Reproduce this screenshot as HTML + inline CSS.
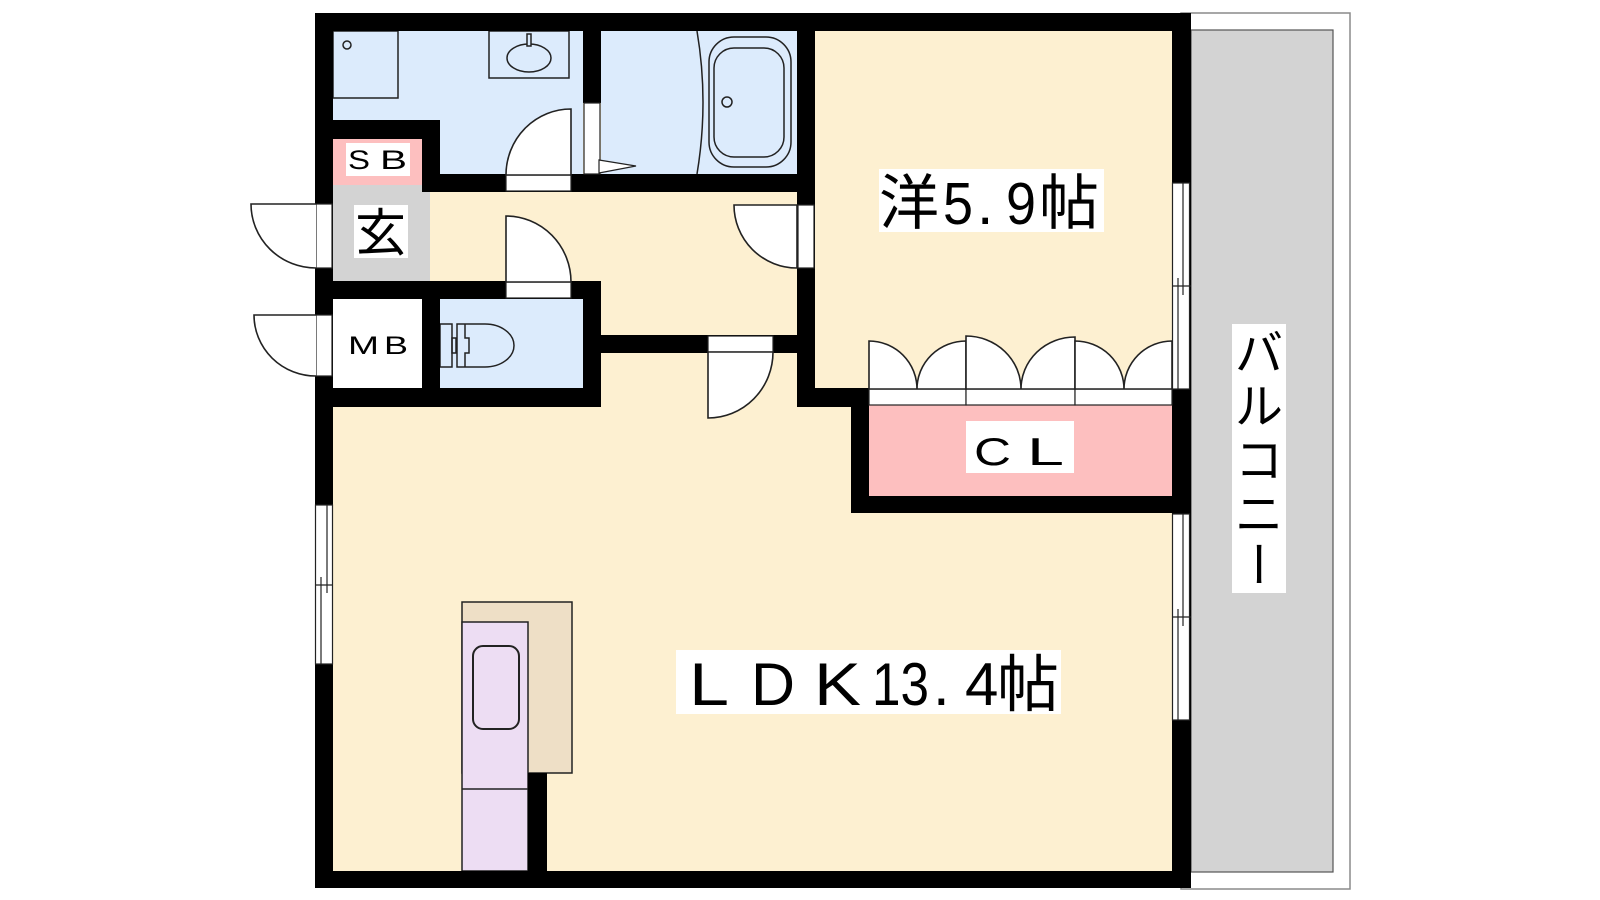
<!DOCTYPE html>
<html><head><meta charset="utf-8"><style>
html,body{margin:0;padding:0;background:#fff;}
svg{display:block;}
text{font-family:"Liberation Sans","Noto Sans CJK JP",sans-serif;fill:#000;}
.j{font-family:"Noto Sans CJK JP","Liberation Sans",sans-serif;}
</style></head><body>
<svg width="1600" height="900" viewBox="0 0 1600 900" xmlns="http://www.w3.org/2000/svg">
<rect x="0" y="0" width="1600" height="900" fill="#fff"/>
<!-- balcony -->
<rect x="1181" y="13" width="169" height="876" fill="#fff" stroke="#8a8a8a" stroke-width="1.5"/>
<rect x="1191" y="30" width="142" height="842" fill="#d3d3d3" stroke="#555" stroke-width="1.2"/>

<!-- interior fills -->
<rect x="333" y="31" width="839" height="840" fill="#fdf0d1"/>
<rect x="333" y="31" width="250" height="143" fill="#dcebfc"/>
<rect x="601" y="31" width="196" height="143" fill="#dcebfc"/>
<rect x="333" y="139" width="89" height="46" fill="#fdbfbf"/>
<rect x="333" y="185" width="97" height="96" fill="#d3d3d3"/>
<rect x="333" y="299" width="89" height="89" fill="#fff"/>
<rect x="440" y="299" width="143" height="89" fill="#dcebfc"/>
<rect x="869" y="405" width="303" height="91" fill="#fdbfbf"/>

<!-- fixtures: washroom -->
<g fill="none" stroke="#222" stroke-width="1.5">
<rect x="333" y="31" width="65" height="67"/>
<circle cx="347" cy="45" r="4"/>
<rect x="489" y="31" width="80" height="47"/>
<ellipse cx="529" cy="58" rx="22" ry="14"/>
<rect x="527" y="34" width="4" height="12" fill="#dcebfc"/>
<!-- bath -->
<path d="M697,31 Q709,102 697,174"/>
<rect x="709" y="37" width="82" height="130" rx="25"/>
<rect x="714" y="48" width="70" height="109" rx="20"/>
<circle cx="727" cy="102" r="5"/>
<!-- toilet -->
<rect x="440" y="324" width="12" height="43"/>
<rect x="452" y="338" width="4" height="15"/>
<path d="M457,324 H485 A29,21.5 0 0 1 485,367 H457 Z"/>
<path d="M465,324 V338 H469 V353 H465 V367"/>
</g>

<!-- kitchen -->
<rect x="462" y="602" width="110" height="171" fill="#eedfc6" stroke="#222" stroke-width="1.5"/>
<rect x="462" y="622" width="66" height="249" fill="#edddf3" stroke="#222" stroke-width="1.5"/>
<line x1="462" y1="789" x2="528" y2="789" stroke="#222" stroke-width="1.5"/>
<rect x="473" y="646" width="46" height="83" rx="10" fill="none" stroke="#222" stroke-width="2"/>

<!-- walls -->
<g fill="#000">
<rect x="315" y="13" width="876" height="18"/>
<rect x="315" y="871" width="876" height="17"/>
<rect x="315" y="13" width="18" height="875"/>
<rect x="1172" y="13" width="19" height="875"/>
<rect x="333" y="120" width="107" height="19"/>
<rect x="422" y="120" width="18" height="72"/>
<rect x="422" y="174" width="375" height="18"/>
<rect x="583" y="31" width="18" height="72"/>
<rect x="797" y="13" width="18" height="394"/>
<rect x="315" y="281" width="286" height="18"/>
<rect x="422" y="299" width="18" height="89"/>
<rect x="315" y="388" width="286" height="19"/>
<rect x="583" y="281" width="18" height="126"/>
<rect x="601" y="335" width="196" height="18"/>
<rect x="797" y="388" width="72" height="19"/>
<rect x="851" y="388" width="18" height="125"/>
<rect x="851" y="496" width="340" height="17"/>
<rect x="528" y="773" width="19" height="98"/>
</g>

<!-- door frames & doors -->
<g fill="#fff" stroke="#222" stroke-width="1.2">
<rect x="316" y="204" width="16" height="64"/>
<path d="M316,204 L251,204 A65,64 0 0 0 316,268" stroke-width="1.6"/>
<rect x="316" y="315" width="16" height="61"/>
<path d="M316,315 L254,315 A62,61 0 0 0 316,376" stroke-width="1.6"/>
<rect x="506" y="175" width="65" height="16"/>
<path d="M571,175 L571,109 A65,66 0 0 0 506,175 Z" stroke-width="1.6"/>
<rect x="506" y="282" width="65" height="16"/>
<path d="M506,282 L506,216 A65,66 0 0 1 571,282 Z" stroke-width="1.6"/>
<rect x="798" y="205" width="16" height="63"/>
<path d="M797,205 L734,205 A63,63 0 0 0 797,268 Z" stroke-width="1.6"/>
<rect x="708" y="336" width="65" height="16"/>
<path d="M708,352 L708,418 A65,66 0 0 0 773,352 Z" stroke-width="1.6"/>
<rect x="584" y="103" width="16" height="71"/>
<path d="M599,160 L636,166 L599,173 Z"/>
<rect x="869" y="389" width="97" height="16"/>
<rect x="966" y="389" width="109" height="16"/>
<rect x="1075" y="389" width="97" height="16"/>
<path d="M869,389 V341 A48,48 0 0 1 917,389 A49,48 0 0 1 966,341 V389 Z" stroke-width="1.6"/>
<path d="M966,389 V336 A55,53 0 0 1 1021,389 A54,52 0 0 1 1075,337 V389 Z" stroke-width="1.6"/>
<path d="M1075,389 V341 A49,48 0 0 1 1124,389 A48,48 0 0 1 1172,341 V389 Z" stroke-width="1.6"/>
<rect x="1172.5" y="183" width="17" height="206"/>
<rect x="1172.5" y="514" width="17" height="206"/>
<rect x="315.5" y="505" width="17" height="159"/>
</g>
<g stroke="#222" stroke-width="1.2" fill="none">
<line x1="1178" y1="278" x2="1178" y2="389"/>
<line x1="1183" y1="183" x2="1183" y2="295"/>
<line x1="1172" y1="286" x2="1191" y2="286"/>
<line x1="1178" y1="609" x2="1178" y2="720"/>
<line x1="1183" y1="514" x2="1183" y2="626"/>
<line x1="1172" y1="617" x2="1191" y2="617"/>
<line x1="321" y1="577" x2="321" y2="664"/>
<line x1="327" y1="505" x2="327" y2="593"/>
<line x1="315" y1="585" x2="333" y2="585"/>
</g>

<!-- labels -->
<g fill="#fff">
<rect x="879" y="169" width="225" height="63"/>
<rect x="676" y="650" width="385" height="64"/>
<rect x="966" y="421" width="108" height="52"/>
<rect x="346" y="143" width="64" height="33"/>
<rect x="354" y="205" width="54" height="53"/>
<rect x="1232" y="324" width="54" height="269"/>
</g>

<text class="j" x="879" y="224" font-size="60">洋</text>
<text x="943" y="224" font-size="59" textLength="30" lengthAdjust="spacingAndGlyphs">5</text>
<text x="977" y="224" font-size="59">.</text>
<text x="1006" y="224" font-size="59" textLength="30" lengthAdjust="spacingAndGlyphs">9</text>
<text class="j" x="1039" y="224" font-size="60">帖</text>

<text x="689" y="705" font-size="60" textLength="40" lengthAdjust="spacingAndGlyphs">L</text>
<text x="751" y="705" font-size="60" textLength="44" lengthAdjust="spacingAndGlyphs">D</text>
<text x="814" y="705" font-size="60" textLength="47" lengthAdjust="spacingAndGlyphs">K</text>
<text x="872" y="705" font-size="60" textLength="57" lengthAdjust="spacingAndGlyphs">13</text>
<text x="933" y="705" font-size="60">.</text>
<text x="965" y="705" font-size="60">4</text>
<text class="j" x="997" y="706" font-size="62">帖</text>

<text x="974" y="465" font-size="39" textLength="37" lengthAdjust="spacingAndGlyphs">C</text>
<text x="1027" y="465" font-size="39" textLength="37" lengthAdjust="spacingAndGlyphs">L</text>

<text x="348" y="169" font-size="27" textLength="22" lengthAdjust="spacingAndGlyphs">S</text>
<text x="380" y="169" font-size="27" textLength="27" lengthAdjust="spacingAndGlyphs">B</text>

<text x="348" y="354" font-size="25" textLength="31" lengthAdjust="spacingAndGlyphs">M</text>
<text x="384" y="354" font-size="25" textLength="24" lengthAdjust="spacingAndGlyphs">B</text>

<text class="j" x="355" y="251" font-size="51">玄</text>

<g class="j" font-size="48" text-anchor="middle">
<text class="j" x="1259" y="370">バ</text>
<text class="j" x="1259" y="423">ル</text>
<text class="j" x="1259" y="477">コ</text>
<text class="j" x="1259" y="531">ニ</text>
<text class="j" x="1259" y="582" transform="rotate(90 1259 564)">ー</text>
</g>
</svg>
</body></html>
